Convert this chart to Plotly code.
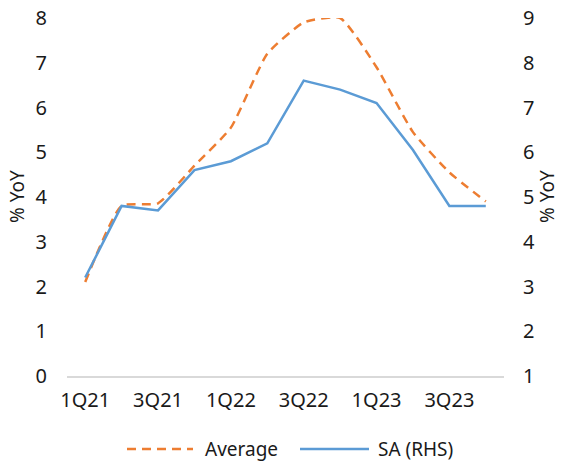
import plotly.graph_objects as go

# Quarterly inflation, % YoY
quarters = ["1Q21", "2Q21", "3Q21", "4Q21", "1Q22", "2Q22",
            "3Q22", "4Q22", "1Q23", "2Q23", "3Q23", "4Q23"]
average = [2.1, 3.8, 3.86, 4.7, 5.55, 7.2, 7.9, 8.0, 6.9, 5.45, 4.55, 3.9]
sa_rhs = [3.2, 4.8, 4.7, 5.6, 5.8, 6.2, 7.6, 7.4, 7.1, 6.05, 4.8, 4.8]
shown_ticks = ["1Q21", "3Q21", "1Q22", "3Q22", "1Q23", "3Q23"]

FONT = "Noto Sans"
TXT = "#1a1a1a"
ORANGE = "#ED7D31"
BLUE = "#5B9BD5"
DASH = "9px,6px"

W, H = 561, 461
L, R, T, B = 67, 57, 18, 85
PW, PH = W - L - R, H - T - B


def px_x(px):
    return (px - L) / PW


def px_y(py):
    return (H - B - py) / PH


fig = go.Figure()
fig.add_trace(go.Scatter(
    x=quarters, y=average, name="Average", mode="lines",
    line=dict(color=ORANGE, width=2.5, dash=DASH, shape="spline", smoothing=0.5),
    yaxis="y", showlegend=False,
))
fig.add_trace(go.Scatter(
    x=quarters, y=sa_rhs, name="SA (RHS)", mode="lines",
    line=dict(color=BLUE, width=2.5),
    yaxis="y2", showlegend=False,
))

# legend drawn below the plot
legend_items = [
    ("Average", ORANGE, DASH, 127, 193, 203),
    ("SA (RHS)", BLUE, "solid", 300, 369, 376),
]
ly = px_y(449)
for label, color, dash, x0, x1, tx in legend_items:
    fig.add_shape(type="line", xref="paper", yref="paper",
                  x0=px_x(x0), x1=px_x(x1), y0=ly, y1=ly,
                  line=dict(color=color, width=2.5, dash=dash))
    fig.add_annotation(xref="paper", yref="paper", x=px_x(tx), y=ly,
                       xanchor="left", yanchor="middle", showarrow=False,
                       text=label, font=dict(family=FONT, size=19, color=TXT))

# axis titles on both sides
for xp in (px_x(17), px_x(547)):
    fig.add_annotation(xref="paper", yref="paper", x=xp, y=px_y(197),
                       xanchor="center", yanchor="middle", showarrow=False,
                       textangle=-90, text="% YoY",
                       font=dict(family=FONT, size=19, color=TXT))

fig.update_layout(
    width=W, height=H,
    margin=dict(l=L, r=R, t=T, b=B, autoexpand=False),
    paper_bgcolor="white", plot_bgcolor="white",
    font=dict(family=FONT, size=20, color=TXT),
    showlegend=False,
    xaxis=dict(
        type="category", categoryorder="array", categoryarray=quarters,
        range=[-0.5, 11.5], tickmode="array", tickvals=shown_ticks, ticktext=shown_ticks,
        showgrid=False, zeroline=False, showline=True, linecolor="#d9d9d9", linewidth=1.5,
        ticks="", ticklabelstandoff=5, automargin=False,
    ),
    yaxis=dict(
        range=[0, 8], dtick=1, showgrid=False, zeroline=False, showline=False,
        ticks="", ticklabelstandoff=19, automargin=False,
    ),
    yaxis2=dict(
        range=[1, 9], dtick=1, overlaying="y", side="right", showgrid=False,
        zeroline=False, showline=False, ticks="", ticklabelstandoff=18, automargin=False,
    ),
)

fig.write_html("out.html")
